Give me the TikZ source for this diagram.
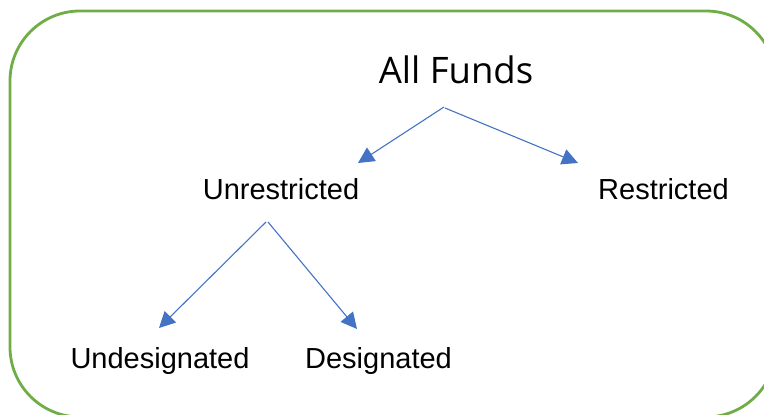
\documentclass[tikz,border=0pt]{standalone}
\usepackage{fontspec}
\setmainfont{Liberation Sans}
\newfontfamily\titlefont{Open Sans}
\usetikzlibrary{arrows.meta}
\definecolor{framegreen}{HTML}{70AD47}
\definecolor{arrowblue}{HTML}{4472C4}
\begin{document}
\begin{tikzpicture}[x=1pt,y=-1pt,
  lbl/.style={anchor=base, inner sep=0pt, font=\fontsize{29}{34}\selectfont},
  ttl/.style={anchor=base, inner sep=0pt, font=\titlefont\fontsize{36.5}{42}\selectfont},
  conn/.style={draw=arrowblue, line width=1.1pt, -{Triangle[length=16pt,width=16pt]}, arrowblue}]
\useasboundingbox (0,0) rectangle (764,415);
\draw[framegreen, line width=2.8pt, rounded corners=70pt] (10,11) rectangle (776,417);
\node[ttl] (all) at (456,83) {All Funds};
\node[lbl] (unr) at (281,199) {Unrestricted};
\node[lbl] (res) at (663.5,199) {Restricted};
\node[lbl] (und) at (160,368) {Undesignated};
\node[lbl] (des) at (378.5,368) {Designated};
\coordinate (a1) at (444,107);
\coordinate (a2) at (445,108);
\coordinate (u1) at (266,222);
\coordinate (u2) at (268,222);
\coordinate (tU) at (358,163);
\coordinate (tR) at (578,163);
\coordinate (tUn) at (159,328);
\coordinate (tD) at (357,329);
\draw[conn] (a1) -- (tU);
\draw[conn] (a2) -- (tR);
\draw[conn] (u1) -- (tUn);
\draw[conn] (u2) -- (tD);
\end{tikzpicture}
\end{document}
